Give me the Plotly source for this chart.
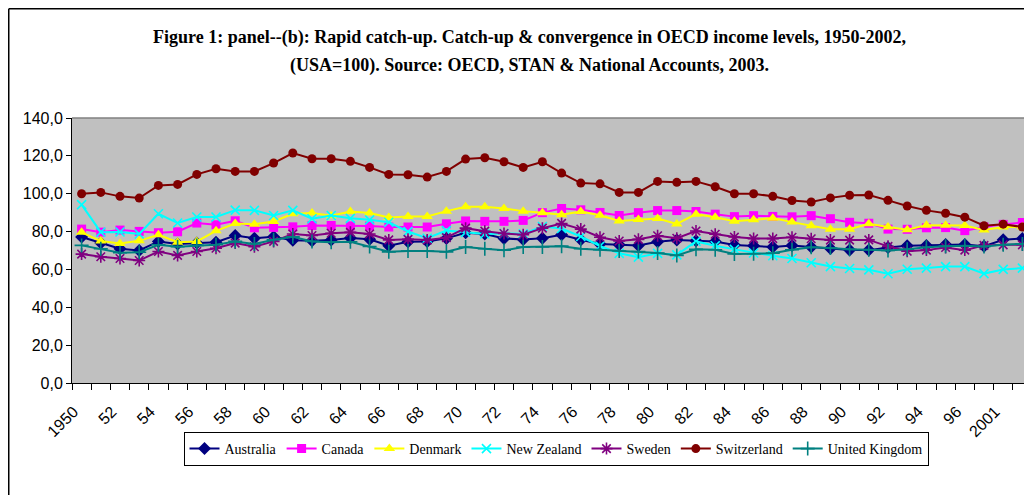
import plotly.graph_objects as go

# ---- data ----
years = [str(y) for y in range(1950, 1998)] + ["2001", "2002"]
tick_labels = ["1950", "52", "54", "56", "58", "60", "62", "64", "66", "68", "70", "72",
               "74", "76", "78", "80", "82", "84", "86", "88", "90", "92", "94", "96", "2001"]

australia = [77.1, 73.9, 70.9, 70.0, 74.8, 73.4, 73.9, 74.4, 77.9, 76.5,
             77.3, 75.4, 75.1, 75.5, 76.6, 75.9, 72.5, 74.6, 74.7, 76.4,
             79.4, 78.7, 76.4, 75.8, 76.5, 78.3, 75.7, 73.4, 73.0, 72.6,
             74.6, 75.5, 75.1, 74.8, 72.9, 72.5, 71.8, 72.6, 71.8, 71.0,
             70.2, 70.2, 71.6, 72.5, 72.7, 73.2, 73.2, 72.3, 75.7, 76.3]
canada = [81.3, 79.7, 80.8, 80.1, 79.4, 79.9, 84.5, 83.6, 85.7, 82.0,
          82.2, 82.5, 83.2, 83.2, 83.0, 82.9, 82.4, 82.4, 82.4, 84.1,
          85.6, 85.4, 85.4, 85.9, 90.0, 92.2, 91.5, 90.1, 88.5, 90.0,
          91.1, 91.1, 90.6, 89.2, 87.9, 88.4, 88.0, 87.8, 88.4, 86.8,
          84.9, 84.4, 81.3, 81.2, 82.0, 82.1, 80.5, 82.4, 83.8, 84.8]
denmark = [79.6, 75.0, 73.7, 75.1, 78.3, 74.4, 74.8, 80.4, 84.2, 83.9,
           85.3, 89.4, 89.8, 88.4, 90.6, 89.8, 87.5, 88.0, 88.0, 90.8,
           93.1, 93.1, 92.2, 90.8, 90.0, 88.9, 90.6, 88.6, 85.6, 86.4,
           86.9, 84.0, 89.2, 87.6, 85.4, 86.2, 87.1, 85.0, 83.1, 81.2,
           81.2, 84.1, 82.4, 81.0, 83.4, 83.4, 83.2, 80.8, 82.4, 82.4]
new_zealand = [94.2, 79.7, 79.8, 78.7, 89.4, 84.5, 87.7, 87.7, 91.3, 91.2,
               88.5, 91.2, 86.8, 88.5, 87.0, 86.2, 84.9, 80.0, 76.5, 80.5,
               79.6, 78.7, 79.0, 78.8, 82.7, 81.6, 77.4, 72.4, 68.5, 66.5,
               68.5, 67.7, 74.8, 72.5, 70.6, 68.7, 67.2, 65.8, 63.5, 61.5,
               60.5, 59.8, 57.7, 60.1, 60.7, 61.5, 61.5, 57.8, 60.0, 60.7]
sweden = [68.1, 66.7, 65.8, 64.7, 69.5, 67.4, 69.5, 71.2, 73.9, 72.0,
          74.8, 78.7, 77.9, 79.1, 79.6, 78.7, 75.6, 75.9, 75.5, 76.8,
          81.8, 80.2, 79.0, 78.3, 81.8, 84.3, 81.3, 77.0, 75.0, 75.9,
          77.8, 76.5, 80.3, 78.6, 77.1, 76.3, 76.3, 77.0, 76.2, 75.5,
          75.5, 75.6, 72.2, 69.6, 70.2, 71.6, 70.2, 72.7, 73.0, 73.0]
switzerland = [100.0, 100.7, 98.6, 97.7, 104.4, 104.9, 110.2, 113.2, 111.8, 111.8,
               116.2, 121.5, 118.5, 118.5, 117.1, 113.9, 110.2, 110.0, 108.8, 111.8,
               118.3, 119.0, 116.9, 113.9, 116.9, 110.9, 105.6, 105.2, 100.7, 100.7,
               106.5, 106.0, 106.5, 103.7, 100.0, 100.0, 98.6, 96.4, 95.6, 97.8,
               99.2, 99.3, 96.5, 93.5, 91.2, 89.7, 87.6, 83.1, 83.9, 82.4]
united_kingdom = [72.7, 70.9, 68.8, 69.1, 73.0, 72.0, 72.7, 73.0, 74.8, 73.4,
                  75.7, 77.2, 74.8, 74.4, 74.6, 72.1, 69.3, 69.7, 69.7, 69.3,
                  71.8, 70.9, 70.1, 71.8, 71.9, 72.3, 70.9, 70.4, 69.7, 69.5,
                  68.7, 67.4, 70.6, 70.4, 68.2, 68.3, 68.6, 70.4, 71.7, 71.3,
                  70.6, 70.4, 70.0, 70.7, 71.7, 72.3, 72.5, 72.1, 73.0, 73.5]

series_names = ["Australia", "Canada", "Denmark", "New Zealand", "Sweden",
                "Switzerland", "United Kingdom"]
series_values = [australia, canada, denmark, new_zealand, sweden,
                 switzerland, united_kingdom]

title_line1 = "Figure 1: panel--(b): Rapid catch-up. Catch-up & convergence in OECD income levels, 1950-2002,"
title_line2 = "(USA=100). Source: OECD, STAN & National Accounts, 2003."

# ---- styles ----
styles = {
    "Australia": dict(color="#000080", symbol="diamond", size=10, open=False),
    "Canada": dict(color="#FF00FF", symbol="square", size=9, open=False),
    "Denmark": dict(color="#FFFF00", symbol="triangle-up", size=10, open=False),
    "New Zealand": dict(color="#00FFFF", symbol="x-thin", size=9, open=True),
    "Sweden": dict(color="#800080", symbol="asterisk", size=10, open=True),
    "Switzerland": dict(color="#800000", symbol="circle", size=9, open=False),
    "United Kingdom": dict(color="#008080", symbol="cross-thin", size=10, open=True),
}

# page has an 8px body margin; figure coordinates = page coordinates - 8
OFF = 8
W, H = 1032 - OFF, 495 - OFF
L, T = 72 - OFF, 118 - OFF
BOTTOM = 383 - OFF
B = H - BOTTOM
PW, PH = W - L, BOTTOM - T


def py(page_y):
    """page y -> paper y"""
    return (BOTTOM - (page_y - OFF)) / PH


def px(page_x):
    """page x -> paper x"""
    return ((page_x - OFF) - L) / PW


fig = go.Figure()
for name, vals in zip(series_names, series_values):
    st = styles[name]
    if st["open"]:
        marker = dict(symbol=st["symbol"], size=st["size"], color=st["color"],
                      line=dict(color=st["color"], width=1.6))
    else:
        marker = dict(symbol=st["symbol"], size=st["size"], color=st["color"],
                      line=dict(width=0))
    fig.add_trace(go.Scatter(
        x=years, y=vals, name=name, mode="lines+markers",
        line=dict(color=st["color"], width=2),
        marker=marker,
    ))

ticktext = []
for i, y in enumerate(years):
    ticktext.append(tick_labels[i // 2] if i % 2 == 0 else "")

title_font = dict(family="Liberation Serif", size=18, color="black", weight="bold")

fig.update_layout(
    width=W, height=H,
    margin=dict(l=L, r=0, t=T, b=B, autoexpand=False),
    paper_bgcolor="white",
    plot_bgcolor="#C0C0C0",
    separators=",.",
    showlegend=True,
    legend=dict(
        orientation="h", x=px(556), xanchor="center", y=py(432), yanchor="top",
        bgcolor="white", bordercolor="black", borderwidth=1,
        font=dict(family="Liberation Serif", size=14, color="black"),
        itemwidth=30, traceorder="normal", tracegroupgap=0,
    ),
    font=dict(family="Liberation Sans", size=16, color="black"),
    annotations=[
        dict(text=title_line1, xref="paper", yref="paper",
             x=px(529), y=py(37), xanchor="center", yanchor="middle",
             showarrow=False, font=title_font),
        dict(text=title_line2, xref="paper", yref="paper",
             x=px(529), y=py(65), xanchor="center", yanchor="middle",
             showarrow=False, font=title_font),
    ],
)

fig.update_xaxes(
    type="category", categoryorder="array", categoryarray=years,
    tickmode="array", tickvals=years, ticktext=ticktext,
    tickson="boundaries", ticks="outside", ticklen=6, tickcolor="black",
    tickangle=-45, showline=True, linecolor="black", linewidth=1,
    showgrid=False, zeroline=False, range=[-0.5, len(years) - 0.5],
    tickfont=dict(family="Liberation Sans", size=16, color="black"),
    ticklabelstandoff=12, ticklabelshift=-8, automargin=False,
)
fig.update_yaxes(
    range=[0, 140], dtick=20, tick0=0, tickformat=".1f",
    ticks="outside", ticklen=5, tickcolor="black",
    showline=True, linecolor="black", linewidth=1,
    showgrid=False, zeroline=False, automargin=False,
    tickfont=dict(family="Liberation Sans", size=16, color="black"),
)

# plot-area top border and outer chart frame
fig.add_shape(type="line", xref="paper", yref="paper", x0=0, x1=1, y0=1, y1=1,
              line=dict(color="#808080", width=1.5))
fig.add_shape(type="line", xref="paper", yref="paper",
              x0=-(L - 0.75) / PW, x1=-(L - 0.75) / PW, y0=1 + (T - 0.75) / PH, y1=-(B + 10) / PH,
              line=dict(color="black", width=1.5))
fig.add_shape(type="line", xref="paper", yref="paper",
              x0=-(L - 0.75) / PW, x1=1.05, y0=1 + (T - 0.75) / PH, y1=1 + (T - 0.75) / PH,
              line=dict(color="black", width=1.5))

fig.write_html("out.html")
